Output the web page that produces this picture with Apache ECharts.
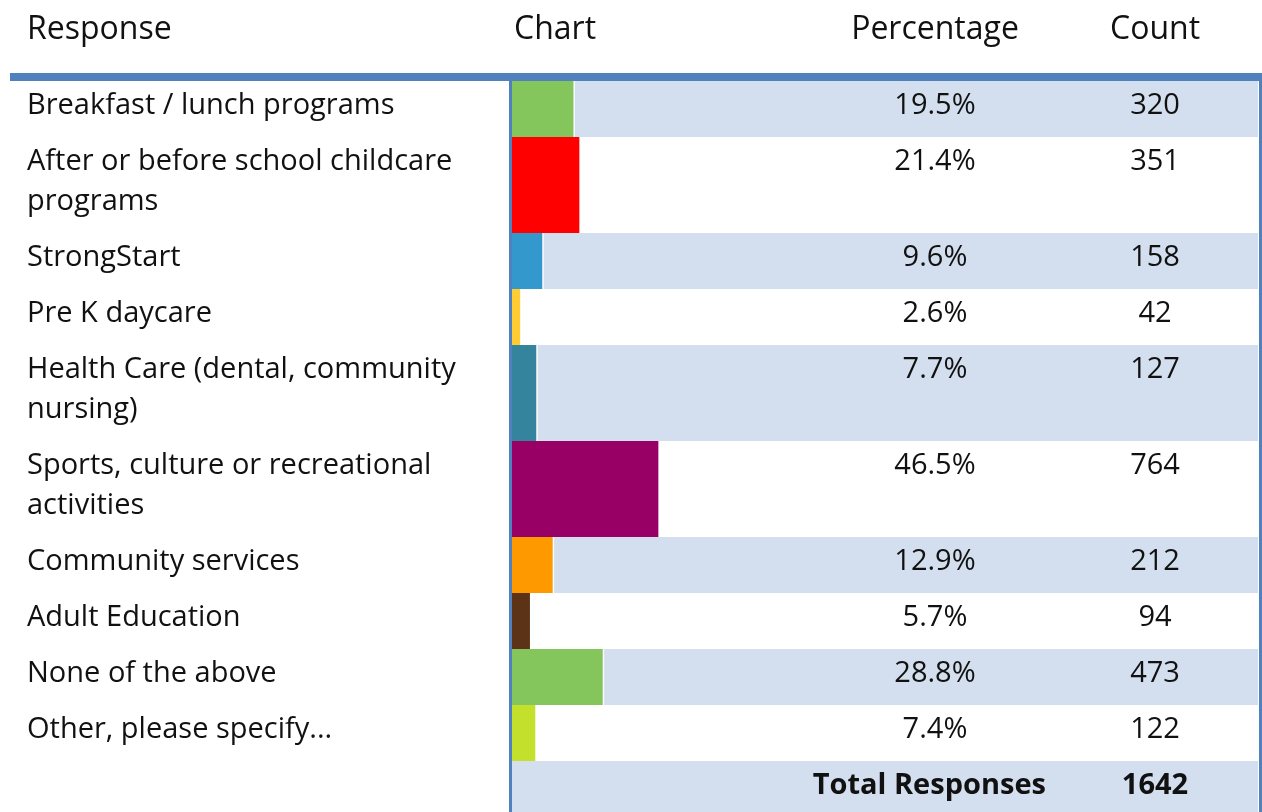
<!DOCTYPE html>
<html>
<head>
<meta charset="utf-8">
<script src="https://cdn.jsdelivr.net/npm/echarts@6/dist/echarts.min.js"></script>
<style>
  html, body { margin: 0; padding: 0; background: #fff; }
  #chart { width: 1262px; height: 812px; }
</style>
</head>
<body>
<div id="chart"></div>
<script>
// Survey responses: label, share of respondents and raw count
const categories = [
  'Breakfast / lunch programs',
  'After or before school childcare\nprograms',
  'StrongStart',
  'Pre K daycare',
  'Health Care (dental, community\nnursing)',
  'Sports, culture or recreational\nactivities',
  'Community services',
  'Adult Education',
  'None of the above',
  'Other, please specify...'
];
const percentages = [19.5, 21.4, 9.6, 2.6, 7.7, 46.5, 12.9, 5.7, 28.8, 7.4];
const counts = [320, 351, 158, 42, 127, 764, 212, 94, 473, 122];
const totalResponses = 1642;
const barColors = ['#84C55C', '#FF0000', '#3399CC', '#FFCC33', '#33849C',
                   '#990066', '#FF9900', '#5C3317', '#84C55C', '#C2E02C'];
const headers = ['Response', 'Chart', 'Percentage', 'Count'];

const FONT = '"Open Sans", "DejaVu Sans", sans-serif';
const BODY_SIZE = 29;
const HEAD_SIZE = 32;
const LINE_H = 40;
const ROW_PAD = 16;
const TOTAL_ROW_H = 56;
const X_MAX = 237;   // horizontal extent of the chart column in percent units
const BLUE = '#4F81BD';
const BAND = '#D3DFEE';
const INK = '#111';

// Row extents along the vertical value axis, from the number of label lines
const rows = [];
let acc = 0;
categories.forEach((c, i) => {
  const h = ROW_PAD + LINE_H * c.split('\n').length;
  rows.push([i, acc, acc + h, percentages[i], counts[i]]);
  acc += h;
});
rows.push([categories.length, acc, acc + TOTAL_ROW_H, 0, totalResponses]);

const chart = echarts.init(document.getElementById('chart'), null, { renderer: 'canvas' });

function renderRow(params, api) {
  const i = api.value(0);
  const top = api.coord([0, api.value(1)]);
  const bottom = api.coord([0, api.value(2)]);
  const x0 = top[0];
  const y0 = top[1];
  const h = bottom[1] - y0;
  const xEnd = api.coord([X_MAX, 0])[0];
  const isTotal = i === categories.length;
  const children = [];
  if (i % 2 === 0) {
    children.push({ type: 'rect', shape: { x: x0, y: y0, width: xEnd - x0, height: h },
                    style: { fill: BAND } });
  }
  const textBase = { font: BODY_SIZE + 'px ' + FONT, fill: INK, verticalAlign: 'top', lineHeight: LINE_H };
  const ty = y0 + 5;
  if (!isTotal) {
    const xBar = api.coord([api.value(3), 0])[0];
    if (i % 2 === 0) {
      children.push({ type: 'rect', shape: { x: xBar, y: y0, width: 1.5, height: h },
                      style: { fill: '#fff' } });
    }
    children.push({ type: 'rect', shape: { x: x0, y: y0, width: xBar - x0, height: h },
                    style: { fill: barColors[i] } });
    children.push({ type: 'text', x: 27, y: ty,
                    style: Object.assign({}, textBase, { text: categories[i], align: 'left' }) });
    children.push({ type: 'text', x: 935, y: ty,
                    style: Object.assign({}, textBase, { text: api.value(3).toFixed(1) + '%', align: 'center' }) });
    children.push({ type: 'text', x: 1155, y: ty,
                    style: Object.assign({}, textBase, { text: String(api.value(4)), align: 'center' }) });
  } else {
    const bold = Object.assign({}, textBase, { font: 'bold ' + BODY_SIZE + 'px ' + FONT });
    children.push({ type: 'text', x: 1046, y: ty,
                    style: Object.assign({}, bold, { text: 'Total Responses', align: 'right' }) });
    children.push({ type: 'text', x: 1155, y: ty,
                    style: Object.assign({}, bold, { text: String(api.value(4)), align: 'center' }) });
  }
  return { type: 'group', children: children };
}

const headFont = HEAD_SIZE + 'px ' + FONT;
const HEAD_Y = 30;
chart.setOption({
  animation: false,
  grid: { left: 512, right: 4, top: 81, bottom: 0 },
  xAxis: { type: 'value', min: 0, max: X_MAX, show: false },
  yAxis: { type: 'value', min: 0, max: 731, inverse: true, show: false },
  series: [{
    type: 'custom',
    clip: false,
    renderItem: renderRow,
    encode: { x: 3, y: [1, 2] },
    data: rows
  }],
  graphic: [
    { type: 'rect', shape: { x: 10, y: 73, width: 1252, height: 8 }, style: { fill: BLUE } },
    { type: 'rect', shape: { x: 509, y: 81, width: 3, height: 731 }, style: { fill: BLUE } },
    { type: 'rect', shape: { x: 1259, y: 81, width: 3, height: 731 }, style: { fill: BLUE } },
    { type: 'text', x: 27, y: HEAD_Y, style: { text: headers[0], font: headFont, fill: INK, align: 'left', verticalAlign: 'middle' } },
    { type: 'text', x: 514, y: HEAD_Y, style: { text: headers[1], font: headFont, fill: INK, align: 'left', verticalAlign: 'middle' } },
    { type: 'text', x: 935, y: HEAD_Y, style: { text: headers[2], font: headFont, fill: INK, align: 'center', verticalAlign: 'middle' } },
    { type: 'text', x: 1155, y: HEAD_Y, style: { text: headers[3], font: headFont, fill: INK, align: 'center', verticalAlign: 'middle' } }
  ]
});
</script>
</body>
</html>
